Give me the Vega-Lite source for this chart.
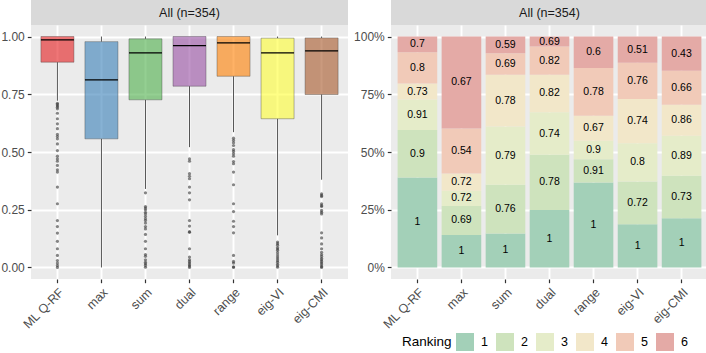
{
  "$schema": "https://vega.github.io/schema/vega-lite/v6.json",
  "padding": {"left": 0, "top": 0, "right": 0, "bottom": 0},
  "background": "white",
  "config": {
    "font": "Liberation Sans",
    "view": {"stroke": null},
    "axis": {"domain": false, "labelFontSize": 12, "labelColor": "#4D4D4D", "tickColor": "#333333", "tickSize": 3.7, "tickWidth": 1.2, "labelPadding": 3, "gridColor": "#FFFFFF", "title": null}
  },
  "resolve": {"scale": {"color": "independent", "x": "independent", "y": "independent"}},
  "datasets": {
    "strip": [{"label": "All (n=354)"}],
    "stats": [
      {"method": "ML Q-RF", "lo": 0.722, "q1": 0.889, "median": 0.986, "q3": 1.0, "hi": 1.0},
      {"method": "max", "lo": 0.0, "q1": 0.557, "median": 0.812, "q3": 0.978, "hi": 1.0},
      {"method": "sum", "lo": 0.34, "q1": 0.726, "median": 0.929, "q3": 0.99, "hi": 1.0},
      {"method": "dual", "lo": 0.521, "q1": 0.785, "median": 0.961, "q3": 1.0, "hi": 1.0},
      {"method": "range", "lo": 0.586, "q1": 0.828, "median": 0.973, "q3": 1.0, "hi": 1.0},
      {"method": "eig-VI", "lo": 0.139, "q1": 0.644, "median": 0.929, "q3": 0.993, "hi": 1.0},
      {"method": "eig-CMI", "lo": 0.38, "q1": 0.749, "median": 0.938, "q3": 0.994, "hi": 1.0}
    ],
    "outliers": [
      {"method": "ML Q-RF", "value": 0.711}, {"method": "ML Q-RF", "value": 0.706}, {"method": "ML Q-RF", "value": 0.700}, {"method": "ML Q-RF", "value": 0.694}, {"method": "ML Q-RF", "value": 0.687}, {"method": "ML Q-RF", "value": 0.668}, {"method": "ML Q-RF", "value": 0.644}, {"method": "ML Q-RF", "value": 0.622}, {"method": "ML Q-RF", "value": 0.601}, {"method": "ML Q-RF", "value": 0.576}, {"method": "ML Q-RF", "value": 0.567}, {"method": "ML Q-RF", "value": 0.557}, {"method": "ML Q-RF", "value": 0.535}, {"method": "ML Q-RF", "value": 0.506}, {"method": "ML Q-RF", "value": 0.482}, {"method": "ML Q-RF", "value": 0.470}, {"method": "ML Q-RF", "value": 0.460}, {"method": "ML Q-RF", "value": 0.442}, {"method": "ML Q-RF", "value": 0.423}, {"method": "ML Q-RF", "value": 0.413}, {"method": "ML Q-RF", "value": 0.348}, {"method": "ML Q-RF", "value": 0.276}, {"method": "ML Q-RF", "value": 0.203}, {"method": "ML Q-RF", "value": 0.177}, {"method": "ML Q-RF", "value": 0.149}, {"method": "ML Q-RF", "value": 0.113}, {"method": "ML Q-RF", "value": 0.081}, {"method": "ML Q-RF", "value": 0.052}, {"method": "ML Q-RF", "value": 0.030}, {"method": "ML Q-RF", "value": 0.019}, {"method": "ML Q-RF", "value": 0.009}, {"method": "ML Q-RF", "value": 0.0},
      {"method": "sum", "value": 0.323}, {"method": "sum", "value": 0.264}, {"method": "sum", "value": 0.257}, {"method": "sum", "value": 0.250}, {"method": "sum", "value": 0.239}, {"method": "sum", "value": 0.232}, {"method": "sum", "value": 0.221}, {"method": "sum", "value": 0.211}, {"method": "sum", "value": 0.203}, {"method": "sum", "value": 0.192}, {"method": "sum", "value": 0.177}, {"method": "sum", "value": 0.167}, {"method": "sum", "value": 0.143}, {"method": "sum", "value": 0.113}, {"method": "sum", "value": 0.081}, {"method": "sum", "value": 0.056}, {"method": "sum", "value": 0.048}, {"method": "sum", "value": 0.033}, {"method": "sum", "value": 0.023}, {"method": "sum", "value": 0.016}, {"method": "sum", "value": 0.009}, {"method": "sum", "value": 0.001},
      {"method": "dual", "value": 0.470}, {"method": "dual", "value": 0.460}, {"method": "dual", "value": 0.406}, {"method": "dual", "value": 0.395}, {"method": "dual", "value": 0.384}, {"method": "dual", "value": 0.348}, {"method": "dual", "value": 0.323}, {"method": "dual", "value": 0.293}, {"method": "dual", "value": 0.203}, {"method": "dual", "value": 0.179}, {"method": "dual", "value": 0.155}, {"method": "dual", "value": 0.152}, {"method": "dual", "value": 0.081}, {"method": "dual", "value": 0.045}, {"method": "dual", "value": 0.033}, {"method": "dual", "value": 0.026}, {"method": "dual", "value": 0.019}, {"method": "dual", "value": 0.012}, {"method": "dual", "value": 0.006}, {"method": "dual", "value": 0.0},
      {"method": "range", "value": 0.560}, {"method": "range", "value": 0.550}, {"method": "range", "value": 0.540}, {"method": "range", "value": 0.528}, {"method": "range", "value": 0.510}, {"method": "range", "value": 0.502}, {"method": "range", "value": 0.492}, {"method": "range", "value": 0.482}, {"method": "range", "value": 0.459}, {"method": "range", "value": 0.449}, {"method": "range", "value": 0.413}, {"method": "range", "value": 0.358}, {"method": "range", "value": 0.276}, {"method": "range", "value": 0.242}, {"method": "range", "value": 0.200}, {"method": "range", "value": 0.177}, {"method": "range", "value": 0.150}, {"method": "range", "value": 0.052}, {"method": "range", "value": 0.026}, {"method": "range", "value": 0.019}, {"method": "range", "value": 0.003}, {"method": "range", "value": 0.0},
      {"method": "eig-VI", "value": 0.110}, {"method": "eig-VI", "value": 0.103}, {"method": "eig-VI", "value": 0.096}, {"method": "eig-VI", "value": 0.086}, {"method": "eig-VI", "value": 0.080}, {"method": "eig-VI", "value": 0.074}, {"method": "eig-VI", "value": 0.064}, {"method": "eig-VI", "value": 0.054}, {"method": "eig-VI", "value": 0.045}, {"method": "eig-VI", "value": 0.037}, {"method": "eig-VI", "value": 0.029}, {"method": "eig-VI", "value": 0.022}, {"method": "eig-VI", "value": 0.014}, {"method": "eig-VI", "value": 0.007}, {"method": "eig-VI", "value": 0.001},
      {"method": "eig-CMI", "value": 0.319}, {"method": "eig-CMI", "value": 0.312}, {"method": "eig-CMI", "value": 0.307}, {"method": "eig-CMI", "value": 0.276}, {"method": "eig-CMI", "value": 0.268}, {"method": "eig-CMI", "value": 0.264}, {"method": "eig-CMI", "value": 0.247}, {"method": "eig-CMI", "value": 0.239}, {"method": "eig-CMI", "value": 0.232}, {"method": "eig-CMI", "value": 0.150}, {"method": "eig-CMI", "value": 0.128}, {"method": "eig-CMI", "value": 0.102}, {"method": "eig-CMI", "value": 0.081}, {"method": "eig-CMI", "value": 0.066}, {"method": "eig-CMI", "value": 0.056}, {"method": "eig-CMI", "value": 0.048}, {"method": "eig-CMI", "value": 0.040}, {"method": "eig-CMI", "value": 0.033}, {"method": "eig-CMI", "value": 0.026}, {"method": "eig-CMI", "value": 0.019}, {"method": "eig-CMI", "value": 0.012}, {"method": "eig-CMI", "value": 0.004}, {"method": "eig-CMI", "value": 0.0}
    ],
    "ranks": [
      {"method": "ML Q-RF", "rank": "1", "prop": 0.390, "label": "1"},
      {"method": "ML Q-RF", "rank": "2", "prop": 0.205, "label": "0.9"},
      {"method": "ML Q-RF", "rank": "3", "prop": 0.132, "label": "0.91"},
      {"method": "ML Q-RF", "rank": "4", "prop": 0.070, "label": "0.73"},
      {"method": "ML Q-RF", "rank": "5", "prop": 0.135, "label": "0.8"},
      {"method": "ML Q-RF", "rank": "6", "prop": 0.068, "label": "0.7"},
      {"method": "max", "rank": "1", "prop": 0.141, "label": "1"},
      {"method": "max", "rank": "2", "prop": 0.125, "label": "0.69"},
      {"method": "max", "rank": "3", "prop": 0.066, "label": "0.72"},
      {"method": "max", "rank": "4", "prop": 0.075, "label": "0.72"},
      {"method": "max", "rank": "5", "prop": 0.195, "label": "0.54"},
      {"method": "max", "rank": "6", "prop": 0.398, "label": "0.67"},
      {"method": "sum", "rank": "1", "prop": 0.147, "label": "1"},
      {"method": "sum", "rank": "2", "prop": 0.211, "label": "0.76"},
      {"method": "sum", "rank": "3", "prop": 0.252, "label": "0.79"},
      {"method": "sum", "rank": "4", "prop": 0.225, "label": "0.78"},
      {"method": "sum", "rank": "5", "prop": 0.093, "label": "0.69"},
      {"method": "sum", "rank": "6", "prop": 0.072, "label": "0.59"},
      {"method": "dual", "rank": "1", "prop": 0.249, "label": "1"},
      {"method": "dual", "rank": "2", "prop": 0.239, "label": "0.78"},
      {"method": "dual", "rank": "3", "prop": 0.184, "label": "0.74"},
      {"method": "dual", "rank": "4", "prop": 0.163, "label": "0.82"},
      {"method": "dual", "rank": "5", "prop": 0.122, "label": "0.82"},
      {"method": "dual", "rank": "6", "prop": 0.043, "label": "0.69"},
      {"method": "range", "rank": "1", "prop": 0.368, "label": "1"},
      {"method": "range", "rank": "2", "prop": 0.101, "label": "0.91"},
      {"method": "range", "rank": "3", "prop": 0.080, "label": "0.9"},
      {"method": "range", "rank": "4", "prop": 0.108, "label": "0.67"},
      {"method": "range", "rank": "5", "prop": 0.207, "label": "0.78"},
      {"method": "range", "rank": "6", "prop": 0.136, "label": "0.6"},
      {"method": "eig-VI", "rank": "1", "prop": 0.187, "label": "1"},
      {"method": "eig-VI", "rank": "2", "prop": 0.185, "label": "0.72"},
      {"method": "eig-VI", "rank": "3", "prop": 0.166, "label": "0.8"},
      {"method": "eig-VI", "rank": "4", "prop": 0.192, "label": "0.74"},
      {"method": "eig-VI", "rank": "5", "prop": 0.156, "label": "0.76"},
      {"method": "eig-VI", "rank": "6", "prop": 0.114, "label": "0.51"},
      {"method": "eig-CMI", "rank": "1", "prop": 0.213, "label": "1"},
      {"method": "eig-CMI", "rank": "2", "prop": 0.184, "label": "0.73"},
      {"method": "eig-CMI", "rank": "3", "prop": 0.173, "label": "0.89"},
      {"method": "eig-CMI", "rank": "4", "prop": 0.135, "label": "0.86"},
      {"method": "eig-CMI", "rank": "5", "prop": 0.147, "label": "0.66"},
      {"method": "eig-CMI", "rank": "6", "prop": 0.148, "label": "0.43"}
    ]
  },
  "columns": 2,
  "spacing": {"row": 0, "column": 5},
  "concat": [
    {
      "width": 317, "height": 25,
      "data": {"name": "strip"},
      "view": {"fill": "#D9D9D9", "stroke": null},
      "mark": {"type": "text", "fontSize": 12.5, "color": "#1A1A1A"},
      "encoding": {"text": {"field": "label"}}
    },
    {
      "width": 317, "height": 25,
      "data": {"name": "strip"},
      "view": {"fill": "#D9D9D9", "stroke": null},
      "mark": {"type": "text", "fontSize": 12.5, "color": "#1A1A1A"},
      "encoding": {"text": {"field": "label"}}
    },
    {
      "width": 317, "height": 254,
      "view": {"fill": "#EBEBEB", "stroke": null},
      "encoding": {
        "x": {"field": "method", "type": "nominal",
          "sort": ["ML Q-RF", "max", "sum", "dual", "range", "eig-VI", "eig-CMI"],
          "scale": {"paddingInner": 0.25, "paddingOuter": 0.225},
          "axis": {"labelAngle": -45, "labelAlign": "right", "labelBaseline": "top", "labelFontSize": 12.5, "grid": true, "gridWidth": 1.9, "title": null}}
      },
      "layer": [
        {
          "data": {"name": "stats"},
          "mark": {"type": "rule", "color": "#555555", "strokeWidth": 1},
          "encoding": {
            "y": {"field": "lo", "type": "quantitative",
              "scale": {"domain": [-0.05, 1.05], "nice": false, "zero": false},
              "axis": {"values": [0, 0.125, 0.25, 0.375, 0.5, 0.625, 0.75, 0.875, 1],
                "labelExpr": "datum.value*4 % 1 == 0 ? format(datum.value, '.2f') : ''",
                "grid": true,
                "gridWidth": {"condition": {"test": "datum.value*4 % 1 == 0", "value": 1.9}, "value": 0.95},
                "tickOpacity": {"condition": {"test": "datum.value*4 % 1 == 0", "value": 1}, "value": 0},
                "title": null}},
            "y2": {"field": "q1"}
          }
        },
        {
          "data": {"name": "stats"},
          "mark": {"type": "rule", "color": "#555555", "strokeWidth": 1},
          "encoding": {"y": {"field": "q3", "type": "quantitative"}, "y2": {"field": "hi"}}
        },
        {
          "data": {"name": "stats"},
          "mark": {"type": "bar", "fillOpacity": 0.6, "stroke": "#333333", "strokeOpacity": 0.35, "strokeWidth": 1},
          "encoding": {
            "y": {"field": "q1", "type": "quantitative"}, "y2": {"field": "q3"},
            "color": {"field": "method", "type": "nominal",
              "scale": {"domain": ["ML Q-RF", "max", "sum", "dual", "range", "eig-VI", "eig-CMI"],
                "range": ["#E41A1C", "#377EB8", "#4DAF4A", "#984EA3", "#FF7F00", "#FFFF33", "#A65628"]},
              "legend": null}
          }
        },
        {
          "data": {"name": "stats"},
          "mark": {"type": "tick", "color": "#000000", "thickness": 1.3, "size": 33, "opacity": 1},
          "encoding": {"y": {"field": "median", "type": "quantitative"}}
        },
        {
          "data": {"name": "outliers"},
          "mark": {"type": "circle", "color": "#333333", "opacity": 0.6, "size": 10},
          "encoding": {"y": {"field": "value", "type": "quantitative"}}
        }
      ]
    },
    {
      "width": 317, "height": 254,
      "view": {"fill": "#EBEBEB", "stroke": null},
      "data": {"name": "ranks"},
      "transform": [
        {"stack": "prop", "groupby": ["method"], "sort": [{"field": "rank", "order": "ascending"}], "as": ["y0", "y1"]},
        {"calculate": "(datum.y0 + datum.y1) / 2", "as": "ymid"}
      ],
      "encoding": {
        "x": {"field": "method", "type": "nominal",
          "sort": ["ML Q-RF", "max", "sum", "dual", "range", "eig-VI", "eig-CMI"],
          "scale": {"paddingInner": 0.1, "paddingOuter": 0.15},
          "axis": {"labelAngle": -45, "labelAlign": "right", "labelBaseline": "top", "labelFontSize": 12.5, "grid": true, "gridWidth": 1.9, "title": null}}
      },
      "layer": [
        {
          "mark": {"type": "bar"},
          "encoding": {
            "y": {"field": "y0", "type": "quantitative",
              "scale": {"domain": [-0.05, 1.05], "nice": false, "zero": false},
              "axis": {"values": [0, 0.125, 0.25, 0.375, 0.5, 0.625, 0.75, 0.875, 1],
                "labelExpr": "datum.value*4 % 1 == 0 ? format(datum.value, '.0%') : ''",
                "grid": true,
                "gridWidth": {"condition": {"test": "datum.value*4 % 1 == 0", "value": 1.9}, "value": 0.95},
                "tickOpacity": {"condition": {"test": "datum.value*4 % 1 == 0", "value": 1}, "value": 0},
                "title": null}},
            "y2": {"field": "y1"},
            "color": {"field": "rank", "type": "nominal",
              "scale": {"domain": ["1", "2", "3", "4", "5", "6"],
                "range": ["#A3D0B8", "#CEE3BD", "#E5ECC9", "#F2E7C9", "#F1CAB8", "#E4AAA6"]},
              "legend": {"title": "Ranking", "orient": "none", "legendX": 11, "legendY": 308,
                "direction": "horizontal", "titleOrient": "left", "symbolType": "square", "symbolSize": 324,
                "symbolStrokeWidth": 0, "symbolOpacity": 1, "labelFontSize": 12.5, "titleFontSize": 13.5, "titleFontWeight": "normal",
                "titleColor": "#000000", "labelColor": "#000000", "labelOffset": 7, "columnPadding": 8,
                "titlePadding": 4, "padding": 0}}
          }
        },
        {
          "mark": {"type": "text", "fontSize": 10.5, "color": "#000000"},
          "encoding": {"y": {"field": "ymid", "type": "quantitative"}, "text": {"field": "label"}}
        }
      ]
    }
  ]
}
